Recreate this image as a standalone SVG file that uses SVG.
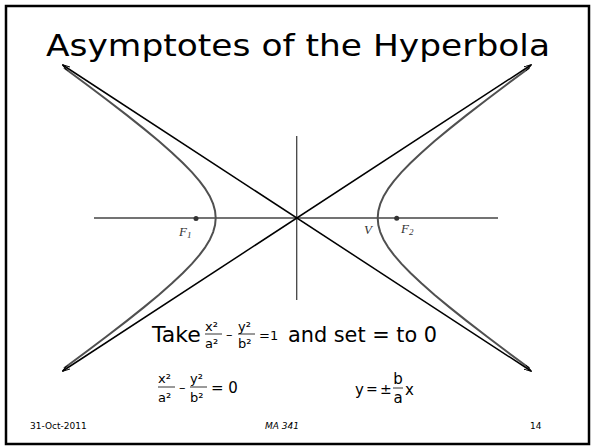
<svg xmlns="http://www.w3.org/2000/svg" width="592" height="447" viewBox="0 0 592 447">
<style>
.frame{fill:#fff;stroke:#000;stroke-width:2.5}
.axis{stroke:#444;stroke-width:1.3;fill:none}
.asym{stroke:#000;stroke-width:1.5;fill:none}
.hyp{stroke:#505050;stroke-width:2;fill:none;stroke-linejoin:round}
.t{font-family:"DejaVu Sans",sans-serif;fill:#000}
.lbl{font-family:"Liberation Serif",serif;font-style:italic;fill:#333}
.bar{stroke:#000;stroke-width:0.8}
</style>
<defs>
<marker id="arr" viewBox="0 0 10 6" refX="9" refY="3" markerWidth="8" markerHeight="5" orient="auto-start-reverse" markerUnits="userSpaceOnUse">
<path d="M0,0 L10,3 L0,6" fill="none" stroke="#000" stroke-width="1.2"/>
</marker>
<path id="branch" d="M-232.7,-150.27 L-208.77,-132.56 L-190.54,-118.81 L-169.89,-102.87 L-152.96,-89.38 L-137.96,-76.93 L-124.99,-65.58 L-114.04,-55.29 L-104.87,-45.88 L-97.34,-37.18 L-91.34,-29.08 L-86.76,-21.41 L-83.54,-14.1 L-81.63,-6.99 L-81,0 L-81.63,6.99 L-83.54,14.1 L-86.76,21.41 L-91.34,29.08 L-97.34,37.18 L-104.87,45.88 L-114.04,55.29 L-124.99,65.58 L-137.96,76.93 L-152.96,89.38 L-169.89,102.87 L-190.54,118.81 L-208.77,132.56 L-232.7,150.27"/>
</defs>
<rect class="frame" x="6" y="6" width="583" height="438"/>
<g id="title"><text class="t" x="46" y="56" font-size="31" textLength="504" lengthAdjust="spacingAndGlyphs">Asymptotes of the Hyperbola</text></g>
<g id="axes">
<line class="axis" x1="94" y1="218" x2="498" y2="218"/>
<line class="axis" x1="296.7" y1="136" x2="296.7" y2="300"/>
</g>
<g id="hyperbola" transform="translate(296.7,218)">
<use href="#branch" class="hyp"/>
<use href="#branch" class="hyp" transform="scale(-1,1)"/>
</g>
<g id="connectors">
<line class="asym" x1="62.7" y1="65" x2="531" y2="371" marker-start="url(#arr)" marker-end="url(#arr)"/>
<line class="asym" x1="62.7" y1="371" x2="531" y2="65" marker-start="url(#arr)" marker-end="url(#arr)"/>
</g>
<g id="points">
<circle cx="196" cy="218.5" r="2.5" fill="#333"/>
<circle cx="396.7" cy="218.3" r="2.5" fill="#333"/>
<text class="lbl" x="179" y="236" font-size="13">F<tspan font-size="9" dy="2">1</tspan></text>
<text class="lbl" x="364" y="234" font-size="13">V</text>
<text class="lbl" x="401" y="233" font-size="13">F<tspan font-size="9" dy="2">2</tspan></text>
</g>
<g id="eq1">
<text class="t" x="152" y="342" font-size="22">Take</text>
<text class="t" x="205" y="331" font-size="13">x²</text>
<line class="bar" x1="205" y1="334" x2="222" y2="334"/>
<text class="t" x="205" y="348" font-size="13">a²</text>
<text class="t" x="226" y="339" font-size="13">–</text>
<text class="t" x="238" y="331" font-size="13">y²</text>
<line class="bar" x1="238" y1="334" x2="255" y2="334"/>
<text class="t" x="238" y="348" font-size="13">b²</text>
<text class="t" x="259" y="340" font-size="13">=1</text>
<text class="t" x="288" y="342" font-size="22" textLength="149" lengthAdjust="spacingAndGlyphs">and set = to 0</text>
</g>
<g id="eq2">
<text class="t" x="158" y="383" font-size="13">x²</text>
<line class="bar" x1="158" y1="387" x2="175" y2="387"/>
<text class="t" x="158" y="402" font-size="13">a²</text>
<text class="t" x="179" y="392" font-size="13">–</text>
<text class="t" x="190" y="383" font-size="13">y²</text>
<line class="bar" x1="190" y1="387" x2="207" y2="387"/>
<text class="t" x="190" y="402" font-size="13">b²</text>
<text class="t" x="211" y="393" font-size="15">= 0</text>
</g>
<g id="eq3">
<text class="t" x="355" y="395" font-size="15">y</text>
<text class="t" x="366" y="394" font-size="14">=</text>
<text class="t" x="380" y="394" font-size="14">±</text>
<text class="t" x="398" y="384" font-size="15" text-anchor="middle">b</text>
<line class="bar" x1="393" y1="388" x2="403" y2="388"/>
<text class="t" x="398" y="403" font-size="15" text-anchor="middle">a</text>
<text class="t" x="405" y="395" font-size="15">x</text>
</g>
<g id="footer">
<text class="t" x="30" y="429" font-size="9">31-Oct-2011</text>
<text class="t" x="282" y="429" font-size="9" text-anchor="middle" font-style="italic">MA 341</text>
<text class="t" x="530" y="429" font-size="9">14</text>
</g>
</svg>
